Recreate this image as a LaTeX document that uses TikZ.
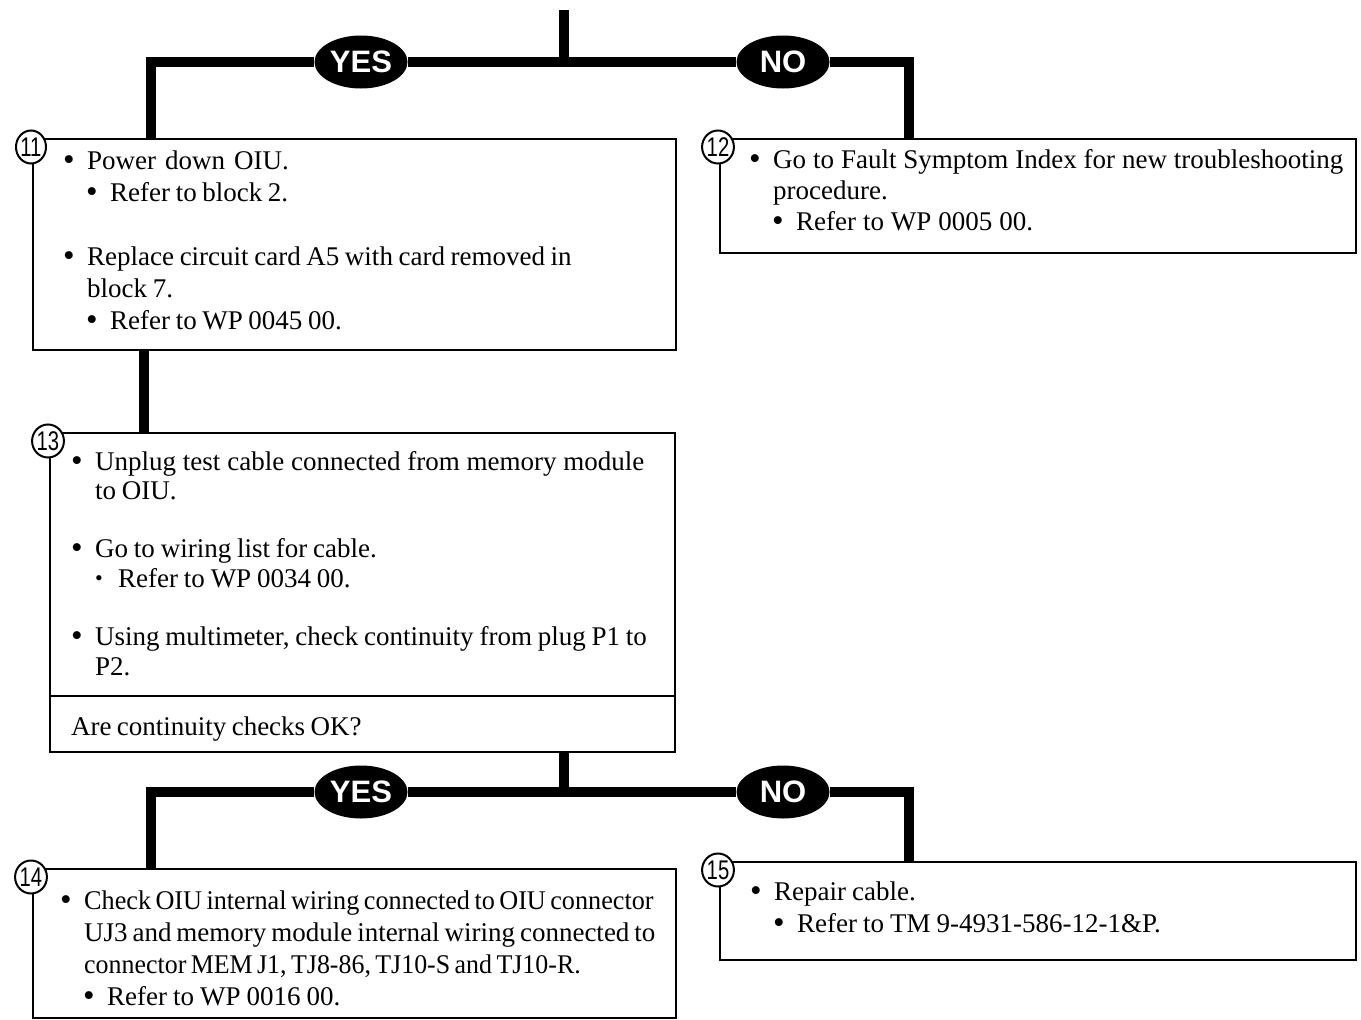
\documentclass[tikz,border=0pt]{standalone}
\usepackage{fontspec}
\setmainfont{Liberation Serif}
\setsansfont{Liberation Sans}
\usepackage{graphicx}
\usetikzlibrary{
  positioning, shapes.geometric, calc,
}
\definecolor{cInk}   {HTML}{000000}
\definecolor{cPaper} {HTML}{FFFFFF}

\newcommand{\dotA}{\raisebox{-1pt}{\fontsize{33}{33}\selectfont\textbullet}}
\newcommand{\bulA}{\makebox[24pt][l]{\dotA}}
\newcommand{\bulB}{\hspace*{23pt}\makebox[24pt][l]{\dotA}}
\newcommand{\bulS}{\hspace*{24pt}\makebox[23pt][l]{\raisebox{1.5pt}{\fontsize{22}{22}\selectfont\textbullet}}}
\newcommand{\contA}{\hspace*{24pt}}
\newcommand{\stepno}[1]{\scalebox{0.75}[1]{#1}}
\newcommand{\wsp}[1]{\spaceskip=#1 plus 0pt minus 0pt\xspaceskip=#1 plus 0pt minus 0pt\relax}
\newcommand{\tight}[2]{\scalebox{#1}[1]{#2}}

\begin{document}
\begin{tikzpicture}[x=1pt, y=-1pt,
    flow/.style={draw=cInk, line width=10pt},
    stepbox/.style={rectangle, draw=cInk, line width=2pt, inner sep=0pt, outer sep=0pt, anchor=north west},
    answer/.style={ellipse, fill=cInk, text=cPaper, minimum width=93pt, minimum height=53pt, inner sep=0pt,
                   font=\sffamily\bfseries\fontsize{31}{31}\selectfont},
    stepnum/.style={ellipse, draw=cInk, fill=cPaper, line width=2pt, minimum width=30pt, minimum height=33pt,
                    inner sep=0pt, font=\sffamily\fontsize{27}{27}\selectfont},
    steptext/.style={anchor=base west, inner sep=0pt, text width=700pt, align=left},
  ]
  \useasboundingbox (0,0) rectangle (1361,1020);

  % boxes
  \node[stepbox, minimum width=643pt, minimum height=211pt] (b11) at (33,139) {};
  \node[stepbox, minimum width=636pt, minimum height=114pt] (b12) at (720,139) {};
  \node[stepbox, minimum width=625pt, minimum height=263pt] (b13) at (50,433) {};
  \node[stepbox, minimum width=625pt, minimum height=56pt] (b13q) at (b13.south west) {};
  \node[stepbox, minimum width=643pt, minimum height=149pt] (b14) at (33,869) {};
  \node[stepbox, minimum width=636pt, minimum height=98pt] (b15) at (720,862) {};

  % first question
  \coordinate (top1) at (564,10);
  \coordinate (split1) at (564,62);
  \node[answer] (yes1) at (361,62) {YES};
  \node[answer] (no1) at (783,62) {NO};
  \draw[flow] (top1) -- (split1);
  \draw[flow] (yes1) -- (no1);
  \draw[flow] (yes1) -| ([xshift=118pt]b11.north west);
  \draw[flow] (no1) -| ([xshift=189pt]b12.north west);

  % 11 -> 13
  \draw[flow] ([xshift=111pt]b11.south west) -- ([xshift=111pt]b11.south west |- b13.north);

  % second question
  \coordinate (split2) at (564,792);
  \node[answer] (yes2) at (361,792) {YES};
  \node[answer] (no2) at (783,792) {NO};
  \draw[flow] (b13q.south -| split2) -- (split2);
  \draw[flow] (yes2) -- (no2);
  \draw[flow] (yes2) -| ([xshift=118pt]b14.north west);
  \draw[flow] (no2) -| ([xshift=189pt]b15.north west);

  % step numbers
  \node[stepnum] (n11) at ([xshift=-2pt, yshift=-8pt]b11.north west) {\stepno{11}};
  \node[stepnum] (n12) at ([xshift=-2pt, yshift=-8pt]b12.north west) {\stepno{12}};
  \node[stepnum] (n13) at ([xshift=-2pt, yshift=-8pt]b13.north west) {\stepno{13}};
  \node[stepnum] (n14) at ([xshift=-2pt, yshift=-8pt]b14.north west) {\stepno{14}};
  \node[stepnum] (n15) at ([xshift=-2pt, yshift=-8pt]b15.north west) {\stepno{15}};

  % texts
  \node[steptext, font=\fontsize{27}{32}\selectfont] (t11) at (63,169) {%
    \wsp{9pt}\bulA Power down OIU.\\
    \wsp{5.6pt}\bulB Refer to block 2.\\[32pt]
    \bulA Replace circuit card A5 with card removed in\\
    \contA block 7.\\
    \bulB Refer to WP 0045 00.};
  \node[steptext, font=\fontsize{27}{31}\selectfont] (t12) at (749,168) {\wsp{6.9pt}%
    \bulA Go to Fault Symptom Index for new troubleshooting\\
    \contA procedure.\\
    \bulB Refer to WP 0005 00.};
  \node[steptext, font=\fontsize{27}{29.3}\selectfont] (t13) at (71,470) {%
    \wsp{6.8pt}\bulA Unplug test cable connected from memory module\\
    \wsp{5.8pt}\contA to OIU.\\[29.3pt]
    \bulA Go to wiring list for cable.\\
    \bulS Refer to WP 0034 00.\\[29.3pt]
    \bulA Using multimeter, check continuity from plug P1 to\\
    \contA P2.};
  \node[steptext, font=\fontsize{27}{32}\selectfont] (t13q) at (71,735) {\wsp{5.3pt}Are continuity checks OK?};
  \node[steptext, font=\fontsize{27}{32}\selectfont] (t14) at (60,909) {\wsp{4.6pt}%
    \bulA \tight{0.97}{Check OIU internal wiring connected to OIU connector}\\
    \wsp{4.9pt}\contA UJ3 and memory module internal wiring connected to\\
    \wsp{4.6pt}\contA \tight{0.96}{connector MEM J1, TJ8-86, TJ10-S and TJ10-R.}\\
    \wsp{6pt}\bulB Refer to WP 0016 00.};
  \node[steptext, font=\fontsize{27}{32}\selectfont] (t15) at (750,900) {\wsp{6pt}%
    \bulA Repair cable.\\
    \bulB Refer to TM 9-4931-586-12-1\&P.};
\end{tikzpicture}
\end{document}
